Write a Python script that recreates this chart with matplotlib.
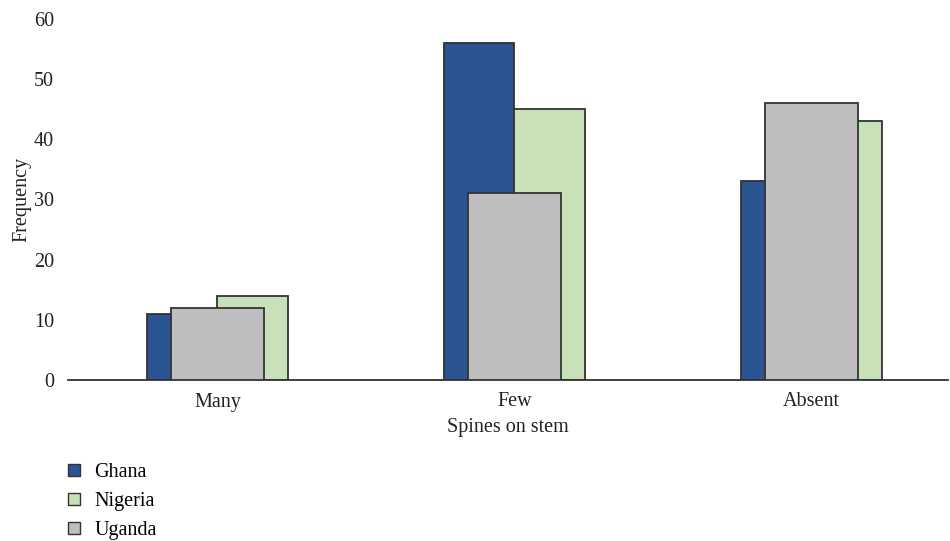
import matplotlib
matplotlib.use("Agg")
import matplotlib.pyplot as plt
import numpy as np
from matplotlib.patches import Patch

plt.rcParams['font.family'] = ['Liberation Serif', 'DejaVu Serif']

categories = ["Many", "Few", "Absent"]
ghana = [11, 56, 33]
nigeria = [14, 45, 43]
uganda = [12, 31, 46]
y_ticks = [0, 10, 20, 30, 40, 50, 60]

c_ghana = "#2B5592"
c_nigeria = "#C8E1B9"
c_uganda = "#BEBEBE"
edge = "#333333"
text_c = "#222222"

fig = plt.figure(figsize=(9.5, 5.41), dpi=100)
ax = fig.add_axes([68 / 950, (541 - 380) / 541, (948 - 68) / 950, (380 - 19) / 541])

x = np.arange(len(categories))
narrow = 0.237
wide = 0.313

ax.bar(x - narrow / 2, ghana, width=narrow, color=c_ghana, edgecolor=edge, linewidth=1.3, zorder=2)
ax.bar(x + narrow / 2, nigeria, width=narrow, color=c_nigeria, edgecolor=edge, linewidth=1.3, zorder=2)
ax.bar(x, uganda, width=wide, color=c_uganda, edgecolor=edge, linewidth=1.3, zorder=3)

ax.set_xlim(-0.503, 2.46)
ax.set_ylim(0, 60)
ax.set_yticks(y_ticks)
ax.set_xticks(x)
ax.set_xticklabels(categories)
ax.tick_params(axis='both', length=0, labelsize=14.5, colors=text_c)
ax.tick_params(axis='x', pad=9)
ax.tick_params(axis='y', pad=10)

for s in ["top", "right", "left"]:
    ax.spines[s].set_visible(False)
ax.spines["bottom"].set_color("#333333")
ax.spines["bottom"].set_linewidth(1.3)

ax.set_xlabel("Spines on stem", fontsize=14.5, color=text_c, labelpad=5)
ax.set_ylabel("Frequency", fontsize=14.5, color=text_c, labelpad=2)

handles = [
    Patch(facecolor=c_ghana, edgecolor=edge, linewidth=1.0, label="Ghana"),
    Patch(facecolor=c_nigeria, edgecolor=edge, linewidth=1.0, label="Nigeria"),
    Patch(facecolor=c_uganda, edgecolor=edge, linewidth=1.0, label="Uganda"),
]
fig.legend(handles=handles, loc="upper left", bbox_to_anchor=(60 / 950, 1 - 455 / 541),
           frameon=False, fontsize=14.5, handlelength=0.6, handleheight=0.6,
           handletextpad=0.7, labelspacing=0.5, borderaxespad=0)

fig.savefig("out.png", dpi=100)
